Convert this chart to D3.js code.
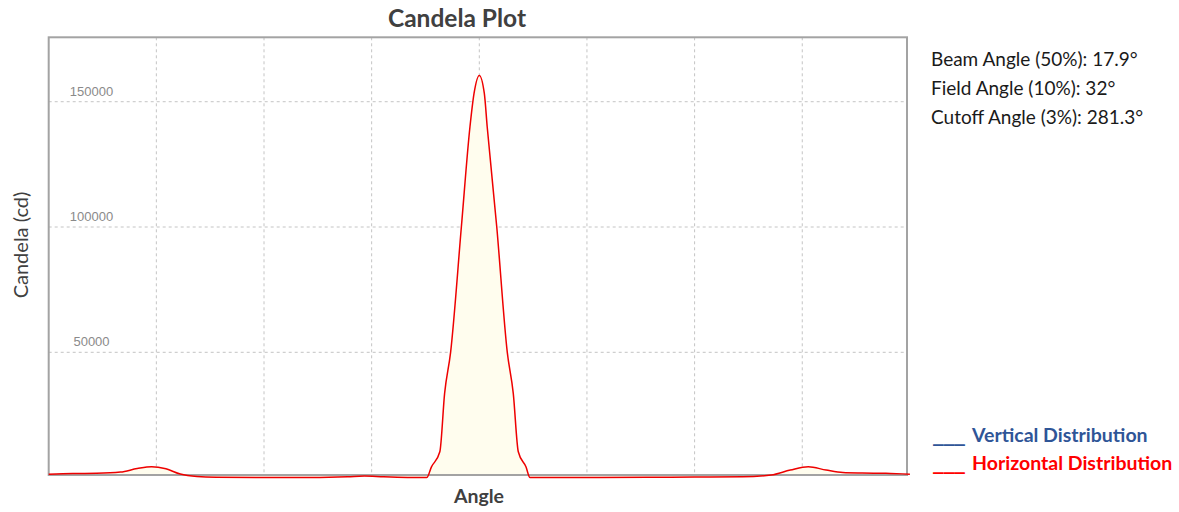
<!DOCTYPE html>
<html>
<head>
<meta charset="utf-8">
<script src="https://cdn.jsdelivr.net/npm/d3@7"></script>
<style>
  html, body { margin: 0; padding: 0; background: #fff; }
  svg { display: block; }
</style>
</head>
<body>
<svg id="chart" width="1179" height="512"></svg>
<script>
// ---- data ----
const angles = [-180, -170, -160, -150, -143, -137, -131, -125, -118, -110, -90, -70, -55, -48, -40, -30, -22,
  -20, -16.5, -14.5, -12, -7.5, -3.9, -2.2, 0, 2.1, 3.3, 7.3, 11.7, 14.2, 16.3, 19.5, 21.2,
  30, 50, 70, 90, 110, 122, 130, 137.5, 145, 152, 160, 170, 180];
const horizontal = [1300, 1600, 1700, 2200, 3600, 4350, 3500, 1400, 400, 100, 0, 0, 300, 600, 300, 50, 0,
  4300, 10300, 33600, 50000, 100000, 140000, 153300, 160500, 153300, 140000, 100000, 50000, 33600, 10300, 4300, 0,
  0, 0, 100, 200, 300, 1000, 3000, 4350, 3000, 2000, 1800, 1700, 1300];
const xGridTicks = [-135, -90, -45, 0, 45, 90, 135];
const yTicks = [50000, 100000, 150000];
const yTickLabels = ["50000", "100000", "150000"];
const titleText = "Candela Plot";
const xLabel = "Angle";
const yLabel = "Candela (cd)";
const annotations = ["Beam Angle (50%): 17.9°", "Field Angle (10%): 32°", "Cutoff Angle (3%): 281.3°"];
const legendItems = [
  { label: "Vertical Distribution", color: "#2f5597" },
  { label: "Horizontal Distribution", color: "#ff0000" }
];

// ---- layout ----
const plotLeft = 48.7, plotRight = 907, plotTop = 37.3, plotBottom = 475;
const svg = d3.select("#chart");
const x = d3.scaleLinear().domain([-180, 180]).range([plotLeft, 909.9]);
const y = d3.scaleLinear().domain([1040, 175700]).range([plotBottom, plotTop]);

const uiFont = "Lato, 'Open Sans', sans-serif";

// grid
const grid = svg.append("g");
grid.selectAll("line.v").data(xGridTicks).enter().append("line")
  .attr("x1", d => x(d)).attr("x2", d => x(d))
  .attr("y1", plotTop).attr("y2", plotBottom)
  .attr("stroke", "#c4c4c4").attr("stroke-width", 1).attr("stroke-dasharray", "3,3");
grid.selectAll("line.h").data(yTicks).enter().append("line")
  .attr("x1", plotLeft).attr("x2", plotRight)
  .attr("y1", d => y(d)).attr("y2", d => y(d))
  .attr("stroke", "#c4c4c4").attr("stroke-width", 1).attr("stroke-dasharray", "3,3");

// y tick labels
svg.append("g").selectAll("text").data(yTicks).enter().append("text")
  .attr("x", 91.5).attr("y", d => y(d) - 6)
  .attr("text-anchor", "middle")
  .attr("font-family", "'Liberation Sans', Arial, sans-serif")
  .attr("font-size", 13).attr("fill", "#8a8a8a")
  .text((d, i) => yTickLabels[i]);

const pts = angles.map((a, i) => ({ a, v: horizontal[i] }));

// area fill
const area = d3.area().x(d => x(d.a)).y0(plotBottom).y1(d => y(d.v)).curve(d3.curveMonotoneX);
svg.append("path").datum(pts).attr("d", area).attr("fill", "#fffdee");

// frame
svg.append("rect").attr("x", plotLeft).attr("y", plotTop)
  .attr("width", plotRight - plotLeft).attr("height", plotBottom - plotTop)
  .attr("fill", "none").attr("stroke", "#a3a3a3").attr("stroke-width", 2);

// line
const line = d3.line().x(d => x(d.a)).y(d => y(d.v)).curve(d3.curveMonotoneX);
svg.append("path").datum(pts).attr("d", line)
  .attr("fill", "none").attr("stroke", "#ee0000").attr("stroke-width", 1.5);

// title
svg.append("text").attr("x", 457).attr("y", 27).attr("text-anchor", "middle")
  .attr("font-family", uiFont).attr("font-weight", "bold").attr("font-size", 24.5)
  .attr("fill", "#404040").text(titleText);

// axis labels
svg.append("text").attr("x", 479).attr("y", 503).attr("text-anchor", "middle")
  .attr("font-family", uiFont).attr("font-weight", "bold").attr("font-size", 19.5)
  .attr("fill", "#404040").text(xLabel);
svg.append("text").attr("transform", "translate(28,245) rotate(-90)").attr("text-anchor", "middle")
  .attr("font-family", uiFont).attr("font-size", 20)
  .attr("fill", "#404040").text(yLabel);

// annotations
svg.append("g").selectAll("text").data(annotations).enter().append("text")
  .attr("x", 931).attr("y", (d, i) => 66 + i * 29)
  .attr("font-family", uiFont).attr("font-size", 19).attr("fill", "#1a1a1a")
  .text(d => d);

// legend
const leg = svg.append("g").selectAll("text").data(legendItems).enter().append("text")
  .attr("y", (d, i) => 442 + i * 28)
  .attr("font-family", uiFont).attr("font-weight", "bold").attr("font-size", 19.5)
  .attr("fill", d => d.color);
leg.append("tspan").attr("x", 933)
  .attr("font-family", "'DejaVu Sans', sans-serif").attr("font-weight", "bold").attr("font-size", 18)
  .attr("textLength", 32).attr("lengthAdjust", "spacingAndGlyphs").text("___");
leg.append("tspan").attr("x", 972).text(d => d.label);
</script>
</body>
</html>
